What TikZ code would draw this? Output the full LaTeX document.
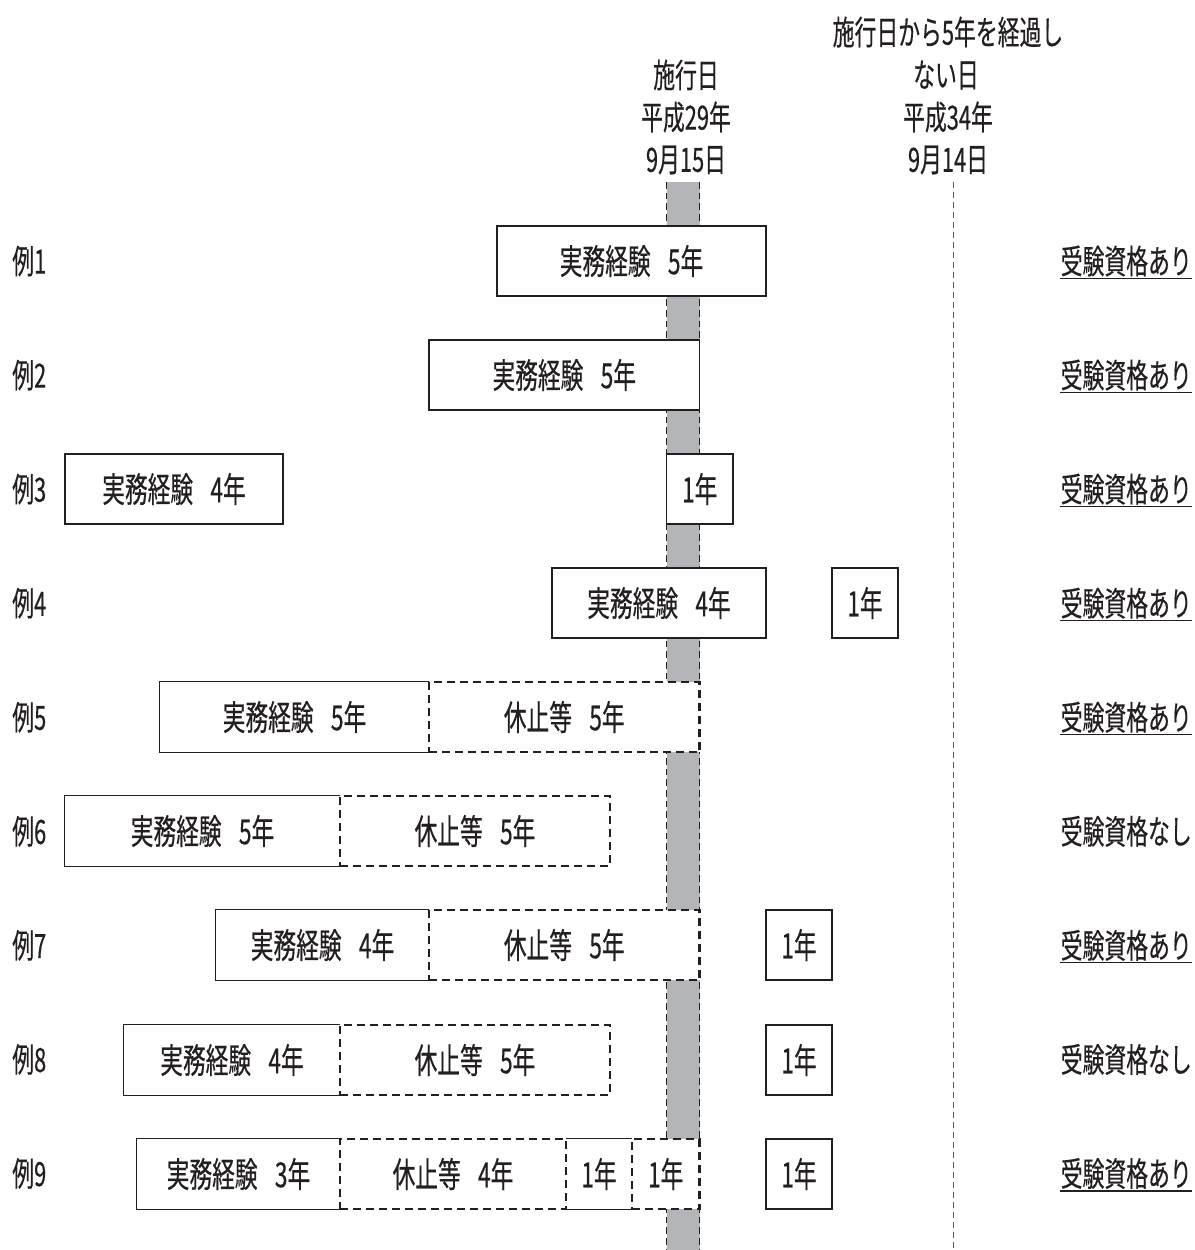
\documentclass[tikz,border=0pt]{standalone}
\usepackage{fontspec}
\setmainfont{Noto Sans CJK JP}[FakeStretch=0.655,FakeBold=0.4]
\definecolor{ink}{RGB}{35,31,32}
\definecolor{barfill}{RGB}{180,181,185}
\definecolor{guide}{RGB}{90,90,90}
\newcommand\rowbox[6][]{\node[box,#1,minimum width={(#4-#3)*0.75pt}] (#2) at ({(#3+#4)/2},#5) {#6};}
\begin{document}
\begin{tikzpicture}[x=0.75pt,y=-0.75pt,
  box/.style={fill=white,inner sep=0,minimum height=52.5pt,text=ink,font=\fontsize{26}{28}\selectfont},
  sbox/.style={box,draw=ink,line width=1.1pt},
  dbox/.style={box,draw=ink,line width=1.9pt,dash pattern=on 6pt off 3.75pt},
  sline/.style={draw=ink,line width=1.1pt},
  lab/.style={inner sep=0,text=ink,font=\fontsize{25}{27}\selectfont},
  res/.style={inner sep=0,text=ink,font=\fontsize{25}{27}\selectfont,anchor=east},
  uline/.style={draw=ink,line width=1.1pt}]
\useasboundingbox (0,0) rectangle (1195,1250);
% time bar
\fill[barfill] (666.5,182) rectangle (699.5,1250);
\coordinate (bl1) at (666.5,182); \coordinate (bl2) at (666.5,1250);
\coordinate (br1) at (699.5,182); \coordinate (br2) at (699.5,1250);
\draw[ink,line width=0.8pt,dash pattern=on 5pt off 3pt] (bl1) -- (bl2) (br1) -- (br2);
\coordinate (g1) at (953,182); \coordinate (g2) at (953,1250);
\draw[guide,line width=0.7pt,dash pattern=on 4.5pt off 3pt] (g1) -- (g2);
% headers
\node[lab] (h1a) at (686,75) {施行日};
\node[lab] (h1b) at (686,117) {平成29年};
\node[lab] (h1c) at (686,160) {9月15日};
\node[lab] (h2a) at (948,32) {施行日から5年を経過し};
\node[lab] (h2b) at (946,75) {ない日};
\node[lab] (h2c) at (948,117) {平成34年};
\node[lab] (h2d) at (948,160) {9月14日};
% row labels
\foreach \i in {1,...,9}{
  \node[lab,anchor=west] (ex\i) at (12,{261+114.06*(\i-1)}) {例\i};
}
% results
\foreach \i/\t in {1/あり,2/あり,3/あり,4/あり,5/あり,7/あり,9/あり}{
  \node[res] (r\i) at (1192,{261+114.06*(\i-1)}) {受験資格\t};
  \draw[uline] ([yshift=-3.5pt]r\i.base west) -- ([yshift=-3.5pt]r\i.base east);
}
\foreach \i in {6,8}{
  \node[res] (r\i) at (1192,{261+114.06*(\i-1)}) {受験資格なし};
}
% row 1
\rowbox[sbox]{a1}{497}{766}{261}{実務経験\hspace{0.5em}5年}
% row 2
\rowbox[sbox]{a2}{429}{699.5}{375}{実務経験\hspace{0.5em}5年}
% row 3
\rowbox[sbox]{a3}{65}{283}{489}{実務経験\hspace{0.5em}4年}
\rowbox[sbox]{b3}{666.5}{733}{489}{1年}
% row 4
\rowbox[sbox]{a4}{552}{766}{603}{実務経験\hspace{0.5em}4年}
\rowbox[sbox]{b4}{832}{898}{603}{1年}
% row 5
\rowbox{a5}{160}{429}{717}{実務経験\hspace{0.5em}5年}
\draw[sline] (a5.north east) -- (a5.north west) -- (a5.south west) -- (a5.south east);
\rowbox[dbox]{b5}{429}{699.5}{717}{休止等\hspace{0.5em}5年}
% row 6
\rowbox{a6}{65}{340}{831}{実務経験\hspace{0.5em}5年}
\draw[sline] (a6.north east) -- (a6.north west) -- (a6.south west) -- (a6.south east);
\rowbox[dbox]{b6}{340}{610}{831}{休止等\hspace{0.5em}5年}
% row 7
\rowbox{a7}{216}{429}{945}{実務経験\hspace{0.5em}4年}
\draw[sline] (a7.north east) -- (a7.north west) -- (a7.south west) -- (a7.south east);
\rowbox[dbox]{b7}{429}{699.5}{945}{休止等\hspace{0.5em}5年}
\rowbox[sbox]{c7}{766}{832}{945}{1年}
% row 8
\rowbox{a8}{124}{340}{1060}{実務経験\hspace{0.5em}4年}
\draw[sline] (a8.north east) -- (a8.north west) -- (a8.south west) -- (a8.south east);
\rowbox[dbox]{b8}{340}{610}{1060}{休止等\hspace{0.5em}5年}
\rowbox[sbox]{c8}{766}{832}{1060}{1年}
% row 9
\rowbox{a9}{137}{340}{1174}{実務経験\hspace{0.5em}3年}
\draw[sline] (a9.north east) -- (a9.north west) -- (a9.south west) -- (a9.south east);
\rowbox{c9}{566}{632}{1174}{1年}
\draw[sline] (c9.north west) -- (c9.north east) (c9.south west) -- (c9.south east);
\rowbox[dbox]{b9}{340}{566}{1174}{休止等\hspace{0.5em}4年}
\rowbox[dbox]{d9}{632}{699.5}{1174}{1年}
\rowbox[sbox]{e9}{766}{832}{1174}{1年}
\end{tikzpicture}
\end{document}
